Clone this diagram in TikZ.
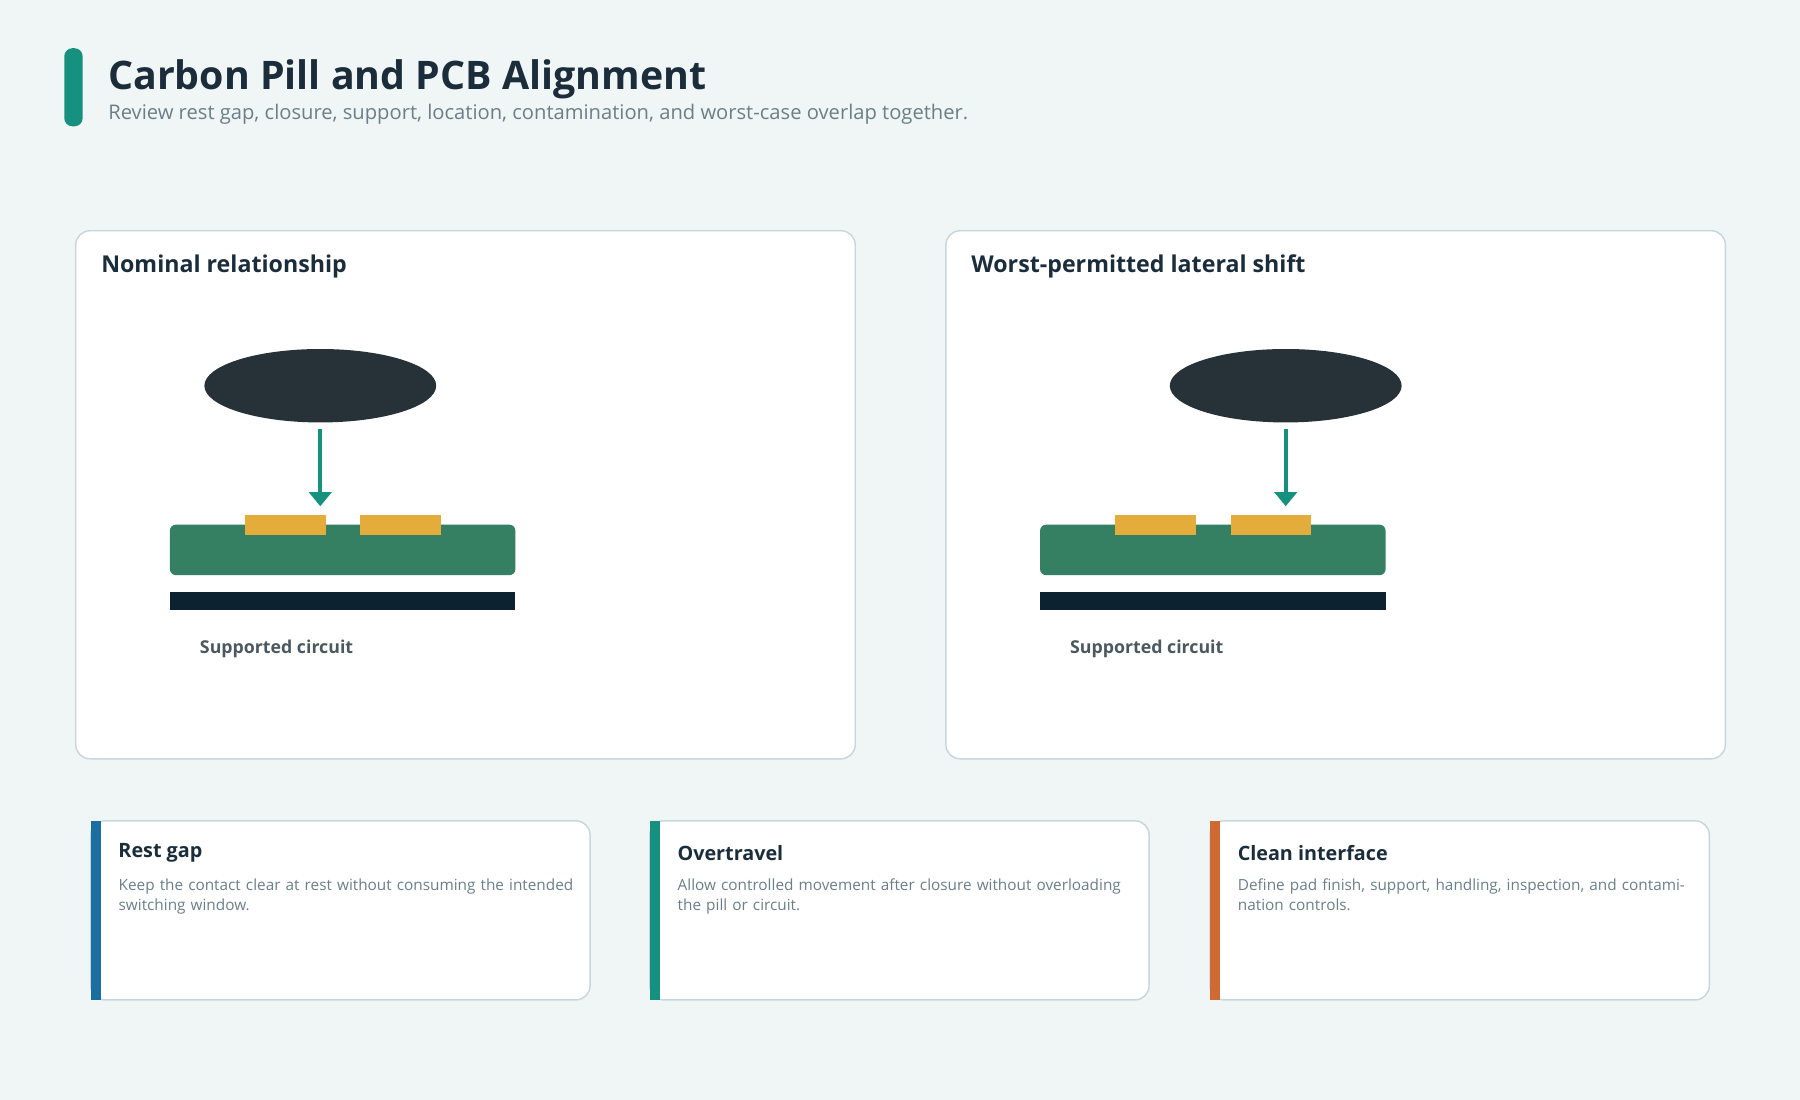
\documentclass[tikz,border=0pt]{standalone}
\usepackage{fontspec}
\setmainfont{Open Sans}
\usetikzlibrary{positioning,arrows.meta,shapes.geometric}
\definecolor{bgc}{HTML}{F0F5F5}
\definecolor{teal}{HTML}{16917F}
\definecolor{ink}{HTML}{1B2D3A}
\definecolor{muted}{HTML}{6B7F88}
\definecolor{edge}{HTML}{C8D6DB}
\definecolor{pill}{HTML}{263238}
\definecolor{board}{HTML}{357F63}
\definecolor{pad}{HTML}{E4AC3A}
\definecolor{base}{HTML}{0C2230}
\definecolor{blue}{HTML}{1A6FA0}
\definecolor{orange}{HTML}{D06A35}
\tikzset{
  panel/.style={draw=edge, fill=white, rounded corners=7pt, line width=0.7pt},
  ptitle/.style={anchor=west, text=ink, font=\fontsize{11.5}{13}\selectfont\bfseries},
  ctitle/.style={anchor=west, text=ink, font=\fontsize{9.8}{12}\selectfont\bfseries},
  cbody/.style={anchor=north west, text=muted, text width=8cm, inner sep=0pt,
    font=\fontsize{7.6}{10}\selectfont},
  pillshape/.style={ellipse, fill=pill, minimum width=4.04cm, minimum height=1.28cm, inner sep=0pt},
  press/.style={draw=teal, line width=1.8pt, -{Triangle[length=7pt,width=11pt]}},
  lbl/.style={anchor=west, text=muted!70!black, font=\fontsize{8.8}{10}\selectfont\bfseries}
}
\begin{document}
\begin{tikzpicture}[x=0.02cm, y=-0.02cm]
  \fill[bgc] (0,0) rectangle (1568,958);
  %% header
  \fill[teal, rounded corners=4pt] (56,42) rectangle (72,110);
  \node[anchor=base west, inner sep=0pt, text=ink, font=\fontsize{19.5}{22}\selectfont\bfseries] (title) at (94,78) {Carbon Pill and PCB Alignment};
  \node[anchor=base west, inner sep=0pt, text=muted, font=\fontsize{10}{12}\selectfont] (sub) at (94,104) {Review rest gap, closure, support, location, contamination, and worst-case overlap together.};

  %% panels
  \foreach \dx/\px/\name in {0/279/Nominal relationship, 758/1120/Worst-permitted lateral shift}{
    \begin{scope}[xshift=\dx*0.02cm]
      \draw[panel] (66,201) rectangle (745,661);
      \node[ptitle] at (82,232) {\name};
      \fill[board, rounded corners=3pt] (148,457) rectangle (449,501);
      \fill[pad] (213,449) rectangle (284,466);
      \fill[pad] (314,449) rectangle (384,466);
      \fill[base] (148,516) rectangle (449,531);
      \node[lbl] at (168,565) {Supported circuit};
    \end{scope}
    \node[pillshape] (pill) at (\px,336) {};
    \coordinate (tip) at (\px,441);
    \draw[press] ([yshift=-0.1cm]pill.south) -- (tip);
  }

  %% cards
  \foreach \x/\col/\head/\body in {
    79/blue/Rest gap/{Keep the contact clear at rest without consuming the intended switching window.},
    566/teal/Overtravel/{Allow controlled movement after closure without overloading the pill or circuit.},
    1054/orange/Clean interface/{Define pad finish, support, handling, inspection, and contamination controls.}}{
    \draw[panel] (\x,715) rectangle ++(435,156);
    \fill[\col] (\x,715) rectangle ++(9,156);
    \node[ctitle] at (\x+18,743) {\head};
    \node[cbody] at (\x+24,765) {\body};
  }
\end{tikzpicture}
\end{document}
